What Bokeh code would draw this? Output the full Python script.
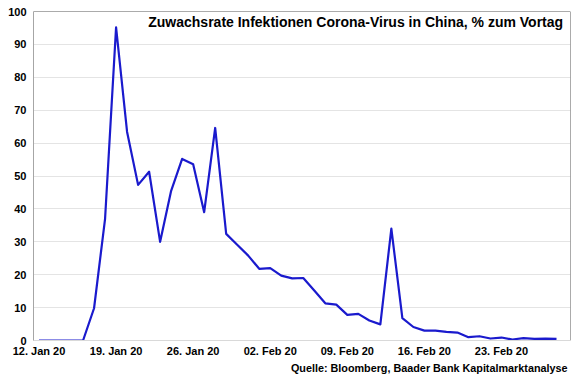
import pandas as pd
from bokeh.plotting import figure
from bokeh.models import (FixedTicker, DatetimeTickFormatter, Label, Span,
                          ColumnDataSource, Range1d, Title)
from bokeh.embed import file_html
from bokeh.resources import INLINE

# ---- data -------------------------------------------------------------
start_date = "2020-01-12"
end_date = "2020-02-28"
growth_pct = [
    0, 0, 0, 0, 0,                      # 12.-16. Jan
    9.8, 37.0, 95.2, 63.4, 47.3, 51.3, 30.0, 45.5, 55.2, 53.6,   # 17.-26. Jan
    39.0, 64.6, 32.4, 29.1, 25.8, 21.8, 22.0, 19.7, 18.9, 19.0,   # 27. Jan - 05. Feb
    15.2, 11.3, 10.9, 7.8, 8.1, 6.1, 4.9, 34.0, 6.8,              # 06.-14. Feb
    4.1, 3.0, 3.0, 2.6, 2.4, 1.0, 1.3, 0.6, 0.9, 0.3, 0.7, 0.5, 0.6, 0.5,  # 15.-28. Feb
]
tick_dates = ["2020-01-12", "2020-01-19", "2020-01-26", "2020-02-02",
              "2020-02-09", "2020-02-16", "2020-02-23"]
y_ticks = [0, 10, 20, 30, 40, 50, 60, 70, 80, 90, 100]
title_text = "Zuwachsrate Infektionen Corona-Virus in China, % zum Vortag"
source_text = "Quelle: Bloomberg, Baader Bank Kapitalmarktanalyse"

dates = pd.date_range(start_date, end_date, freq="D")
src = ColumnDataSource(dict(date=dates, val=growth_pct))

DAY = pd.Timedelta(days=1)
t0 = pd.Timestamp(start_date)
x_start = t0 - 0.5 * DAY
x_end = t0 + 48.27 * DAY

FONT = "Liberation Sans"

p = figure(width=580, height=375, x_axis_type="datetime",
           output_backend="svg", toolbar_location=None,
           x_range=Range1d(x_start, x_end), y_range=Range1d(0, 100),
           min_border_left=33, min_border_right=10, min_border_top=11,
           min_border_bottom=35)
p.outline_line_color = None
p.background_fill_color = "white"
p.border_fill_color = "white"

p.line("date", "val", source=src, line_color="#1A1ACD", line_width=2.2,
       line_join="round")

# axes
p.xaxis.ticker = FixedTicker(ticks=[pd.Timestamp(d).value // 10**6 for d in tick_dates])
fmt = "%d. %b %y"
p.xaxis.formatter = DatetimeTickFormatter(days=fmt, months=fmt, years=fmt,
                                          hours=fmt, minutes=fmt, seconds=fmt,
                                          milliseconds=fmt, microseconds=fmt,
                                          hourmin=fmt, minsec=fmt)
p.yaxis.ticker = FixedTicker(ticks=y_ticks)
for ax in (p.xaxis[0], p.yaxis[0]):
    ax.major_label_text_font = FONT
    ax.major_label_text_font_style = "bold"
    ax.major_label_text_font_size = "11px"
    ax.major_label_text_color = "#000000"
    ax.major_tick_line_color = None
    ax.minor_tick_line_color = None
    ax.major_tick_out = 0
    ax.major_tick_in = 0
p.yaxis.major_label_standoff = 7
p.xaxis.major_label_standoff = 4
p.yaxis.axis_line_color = "#A6A6A6"
p.xaxis.axis_line_color = "#D9D9D9"

p.xgrid.grid_line_color = None
p.ygrid.grid_line_color = "#E4E4E4"
p.ygrid.grid_line_width = 1

# top and right frame border
p.add_layout(Span(location=100, dimension="width", line_color="#595959", line_width=1))
p.add_layout(Span(location=x_end, dimension="height", line_color="#595959", line_width=1))

# title inside plot
p.add_layout(Label(x=t0 + 47.6 * DAY, y=96.7, text=title_text,
                   text_align="right", text_baseline="middle",
                   text_font=FONT, text_font_style="bold",
                   text_font_size="14px", text_color="#000000"))

# source below axis
p.add_layout(Title(text=source_text, align="right", standoff=0, offset=3,
                   text_font=FONT, text_font_style="bold",
                   text_font_size="10.8px", text_color="#000000"), "below")

open("out.html", "w").write(file_html(p, INLINE))
